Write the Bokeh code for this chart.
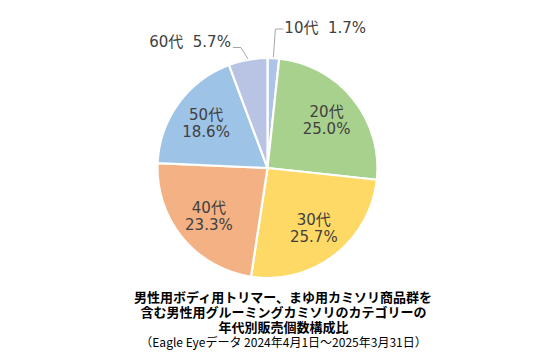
import numpy as np
from bokeh.plotting import figure
from bokeh.models import Range1d, ColumnDataSource
from bokeh.core.properties import value
from bokeh.embed import file_html
from bokeh.resources import INLINE

ages = ["10代", "20代", "30代", "40代", "50代", "60代"]
shares = [1.7, 25.0, 25.7, 23.3, 18.6, 5.7]
colors = ["#adc3e8", "#a9d18e", "#ffd966", "#f4b183", "#9dc3e6", "#b9c3e4"]
title_lines = [
    "男性用ボディ用トリマー、まゆ用カミソリ商品群を",
    "含む男性用グルーミングカミソリのカテゴリーの",
    "年代別販売個数構成比",
]
note = "（Eagle Eyeデータ 2024年4月1日～2025年3月31日）"

W, H = 536, 352
LFONT = value("DejaVu Sans, Noto Sans CJK JP")
FONT = value("Noto Sans CJK JP")
TXT = "#404040"

p = figure(width=W, height=H, output_backend="svg", toolbar_location=None,
           x_range=Range1d(0, W), y_range=Range1d(0, H), min_border=0)
p.axis.visible = False
p.grid.visible = False
p.outline_line_color = None
p.background_fill_color = "white"

cx, cy, R = 267, H - 167.5, 110
vals = np.array(shares)
frac = vals / vals.sum()
cum = np.concatenate([[0], np.cumsum(frac)])
start = np.pi / 2 - 2 * np.pi * cum[:-1]
end = np.pi / 2 - 2 * np.pi * cum[1:]
mid = (start + end) / 2

src = ColumnDataSource(dict(x=[cx] * len(ages), y=[cy] * len(ages), s=start, e=end, c=colors))
p.wedge(x="x", y="y", radius=R, start_angle="s", end_angle="e", direction="clock",
        fill_color="c", line_color="white", line_width=2.2, source=src)

# inside labels
lr = 0.69 * R
for i, (a, v) in enumerate(zip(ages, shares)):
    if v < 10:
        continue
    lx = cx + lr * np.cos(mid[i])
    ly = cy + lr * np.sin(mid[i])
    p.text([lx], [ly + 8.5], text=[a], text_font=LFONT, text_font_size="15px",
           text_color=TXT, text_align="center", text_baseline="middle")
    p.text([lx], [ly - 9], text=[f"{v:.1f}%"], text_font=LFONT, text_font_size="15px",
           text_color=TXT, text_align="center", text_baseline="middle")

# outside labels
NB = "\u00a0"
for i, (a, v) in enumerate(zip(ages, shares)):
    if v >= 10:
        continue
    ex = cx + R * np.cos(mid[i])
    ey = cy + R * np.sin(mid[i])
    lab = f"{a}{NB}{NB}{v:.1f}%"
    if np.cos(mid[i]) >= 0:
        ty = H - 28.5
        xs = [ex, ex + 2, ex + 10]
        ys = [ey + 1, ty, ty]
        p.line(xs, ys, line_color="#a6a6a6", line_width=1)
        p.text([ex + 11], [ty + 1], text=[lab], text_font=LFONT, text_font_size="15px",
               text_color=TXT, text_align="left", text_baseline="middle")
    else:
        ty = H - 47
        xs = [ex, ex - 7, ex - 15]
        ys = [ey + 1, ty, ty]
        p.line(xs, ys, line_color="#a6a6a6", line_width=1)
        p.text([ex - 17], [ty + 6], text=[lab], text_font=LFONT, text_font_size="15px",
               text_color=TXT, text_align="right", text_baseline="middle")

# title
tx = 283
for k, t in enumerate(title_lines):
    p.text([tx], [H - 296 - 15 * k], text=[t], text_font=FONT, text_font_size="13px",
           text_font_style="bold", text_color="#000000", text_align="center", text_baseline="middle")
p.text([tx], [H - 341], text=[note], text_font=FONT, text_font_size="12px",
       text_color="#000000", text_align="center", text_baseline="middle")

open("out.html", "w").write(file_html(p, INLINE))
